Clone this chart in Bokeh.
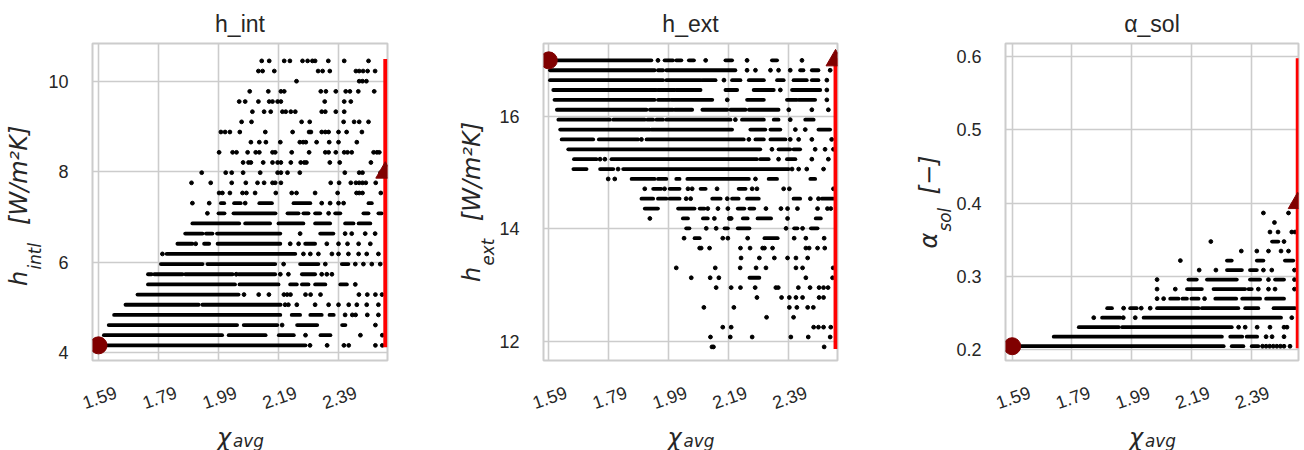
import math
from bokeh.plotting import figure
from bokeh.models import Range1d, FixedTicker, Label, LinearAxis, PrintfTickFormatter
from bokeh.layouts import row
from bokeh.embed import file_html
from bokeh.resources import INLINE

# ---------------------------------------------------------------- data
X_TICKS = [1.59, 1.79, 1.99, 2.19, 2.39]
X_TICK_LABELS = ["1.59", "1.79", "1.99", "2.19", "2.39"]
CHI_REF = 1.59      # chi_avg of the reference design (circle)
CHI_MAX = 2.546     # chi_avg where the red bound line sits (triangle)

# ---- panel 1 : h_int
HINT_LEVELS = [4.155, 4.380, 4.605, 4.830, 5.055, 5.280, 5.505, 5.730, 5.955, 6.180,
               6.405, 6.630, 6.855, 7.080, 7.305, 7.530, 7.755, 7.980, 8.205, 8.430,
               8.655, 8.880, 9.105, 9.330, 9.555, 9.780, 10.005, 10.230, 10.455]
HINT_RUNS = [
    [(1.59, 2.28)],
    [(1.608, 2.002), (2.024, 2.147), (2.191, 2.241), (2.33, 2.363)],
    [(1.624, 2.052), (2.074, 2.186), (2.252, 2.319), (2.402, 2.413)],
    [(1.642, 2.196), (2.234, 2.262), (2.296, 2.334), (2.36, 2.374)],
    [(1.68, 1.924), (1.936, 2.197)],
    [(1.72, 2.057)],
    [(1.755, 2.045), (2.06, 2.19), (2.229, 2.251), (2.268, 2.29), (2.312, 2.346), (2.396, 2.418)],
    [(1.755, 1.767), (1.776, 1.87), (1.879, 2.037), (2.057, 2.179), (2.268, 2.312)],
    [(1.798, 1.937), (1.953, 2.179), (2.262, 2.323), (2.401, 2.423)],
    [(1.817, 2.246)],
    [(1.853, 1.903), (1.942, 1.959), (1.987, 2.196), (2.279, 2.312)],
    [(1.879, 1.937), (1.948, 1.97), (1.985, 2.196), (2.329, 2.373)],
    [(1.903, 2.059), (2.079, 2.162), (2.19, 2.273), (2.312, 2.362), (2.412, 2.44), (2.457, 2.496)],
    [(1.99, 2.01), (2.04, 2.18), (2.22, 2.257), (2.273, 2.29), (2.312, 2.329), (2.379, 2.396),
     (2.473, 2.49), (2.523, 2.534)],
    [(1.998, 2.009), (2.042, 2.064), (2.126, 2.168), (2.24, 2.296), (2.49, 2.501)],
    [], [], [], [], [], [], [], [], [], [], [], [], [], [],
]
HINT_DOTS = [
    [2.295, 2.352, 2.408, 2.424, 2.513, 2.536],
    [2.28, 2.463, 2.536],
    [2.202, 2.513],
    [2.412, 2.436, 2.447, 2.486, 2.523],
    [2.212, 2.223, 2.251, 2.312, 2.357, 2.39, 2.424, 2.451, 2.484, 2.523],
    [2.075, 2.124, 2.158, 2.208, 2.219, 2.23, 2.28, 2.297, 2.33, 2.458, 2.486, 2.513, 2.535],
    [2.446],
    [2.049, 2.196, 2.223, 2.334, 2.351, 2.368],
    [2.207, 2.346, 2.446, 2.473, 2.501, 2.529],
    [1.803, 2.273, 2.296, 2.323, 2.368, 2.39, 2.423, 2.457, 2.484, 2.523],
    [1.914, 2.229, 2.257, 2.351, 2.39, 2.42, 2.457, 2.496],
    [2.262, 2.412, 2.434, 2.479, 2.512],
    [],
    [1.953, 2.357],
    [1.903, 1.959, 2.079, 2.334, 2.362, 2.39, 2.407],
    [1.992, 2.003, 2.028, 2.07, 2.083, 2.112, 2.181, 2.234, 2.25, 2.312, 2.387, 2.45, 2.459, 2.47, 2.531],
    [1.9, 1.964, 2.034, 2.081, 2.12, 2.142, 2.17, 2.179, 2.198, 2.364, 2.392, 2.431, 2.448, 2.459,
     2.47, 2.481, 2.514],
    [1.934, 2.014, 2.034, 2.072, 2.129, 2.187, 2.198, 2.22, 2.261, 2.411, 2.459, 2.47, 2.53],
    [2.072, 2.09, 2.098, 2.139, 2.17, 2.187, 2.198, 2.231, 2.264, 2.276, 2.283, 2.361, 2.394, 2.498],
    [1.992, 2.037, 2.05, 2.087, 2.114, 2.126, 2.17, 2.179, 2.234, 2.292, 2.346, 2.357, 2.381, 2.409,
     2.42, 2.434, 2.507, 2.518, 2.526],
    [2.098, 2.126, 2.148, 2.196, 2.261, 2.272, 2.281, 2.317, 2.359, 2.39, 2.451],
    [1.998, 2.012, 2.028, 2.061, 2.146, 2.237, 2.292, 2.298, 2.334, 2.346, 2.357, 2.39, 2.417, 2.468],
    [2.067, 2.1, 2.267, 2.294, 2.407, 2.442, 2.459, 2.49],
    [2.103, 2.142, 2.164, 2.203, 2.214, 2.231, 2.246, 2.334, 2.346, 2.381, 2.409],
    [2.059, 2.079, 2.123, 2.159, 2.17, 2.187, 2.198, 2.344, 2.409, 2.431],
    [2.094, 2.156, 2.198, 2.209, 2.331, 2.348, 2.381, 2.414, 2.428, 2.456, 2.509],
    [2.25, 2.459, 2.47, 2.483],
    [2.123, 2.137, 2.176, 2.322, 2.337, 2.361, 2.448, 2.459, 2.472, 2.487, 2.512],
    [2.134, 2.159, 2.209, 2.228, 2.27, 2.287, 2.303, 2.312, 2.356, 2.409, 2.49],
]
HINT_BOUNDS = [4.155, 10.455]
HINT_REF = 4.155
HINT_OPT = 7.98
HINT_TICKS = [4, 6, 8, 10]

# ---- panel 2 : h_ext
HEXT_LEVELS = [17.000, 16.824, 16.648, 16.473, 16.297, 16.121, 15.945, 15.769, 15.594, 15.418,
               15.242, 15.066, 14.890, 14.715, 14.539, 14.363, 14.187, 14.011, 13.836, 13.660,
               13.484, 13.308, 13.132, 12.957, 12.781, 12.605, 12.429, 12.253, 12.078, 11.902]
HEXT_RUNS = [
    [(1.589, 1.932), (1.976, 2.004), (2.015, 2.032), (2.057, 2.074), (2.179, 2.201), (2.334, 2.351)],
    [(1.594, 1.943), (1.954, 1.971), (1.982, 2.212), (2.428, 2.439), (2.467, 2.489)],
    [(1.594, 1.971), (1.982, 2.096), (2.102, 2.146), (2.201, 2.229), (2.257, 2.307), (2.351, 2.373),
     (2.406, 2.45), (2.467, 2.489)],
    [(1.605, 1.949), (1.954, 2.01), (2.015, 2.096), (2.179, 2.218), (2.273, 2.34), (2.401, 2.495)],
    [(1.609, 1.943), (1.954, 1.993), (1.999, 2.135), (2.251, 2.307), (2.384, 2.417), (2.423, 2.478)],
    [(1.617, 1.916), (1.927, 2.004), (2.01, 2.068), (2.102, 2.185), (2.196, 2.246), (2.257, 2.356)],
    [(1.622, 1.794), (1.805, 1.91), (1.919, 1.938), (1.949, 1.971), (1.982, 2.196), (2.234, 2.307),
     (2.34, 2.356), (2.445, 2.473)],
    [(1.628, 1.927), (1.932, 2.201), (2.262, 2.312), (2.329, 2.362), (2.489, 2.528)],
    [(1.633, 1.738), (1.757, 1.888), (1.916, 2.24), (2.279, 2.307), (2.329, 2.379)],
    [(1.655, 2.295), (2.356, 2.395), (2.406, 2.428)],
    [(1.674, 1.749), (1.799, 2.284), (2.295, 2.323), (2.384, 2.412)],
    [(1.672, 1.716), (1.761, 1.805), (1.838, 2.39)],
    [(1.866, 1.943), (1.954, 1.982), (2.015, 2.026), (2.052, 2.257), (2.323, 2.351), (2.462, 2.478)],
    [(1.938, 1.965), (1.993, 2.026), (2.096, 2.113), (2.223, 2.246)],
    [(1.899, 1.938), (1.954, 1.982), (1.993, 2.026), (2.135, 2.163), (2.201, 2.223), (2.251, 2.29),
     (2.406, 2.428), (2.5, 2.539)],
    [(1.91, 1.954), (2.021, 2.076), (2.093, 2.109), (2.22, 2.242), (2.259, 2.275)],
    [(2.037, 2.054), (2.104, 2.12), (2.237, 2.253), (2.286, 2.331), (2.48, 2.497)],
    [(2.048, 2.059), (2.176, 2.187), (2.22, 2.259), (2.408, 2.419), (2.464, 2.486)],
    [(2.076, 2.093), (2.309, 2.353)],
    [], [], [],
    [(2.259, 2.292)],
    [], [], [], [], [], [], [],
]
HEXT_DOTS = [
    [1.954, 2.113, 2.251, 2.434],
    [2.251, 2.279, 2.329, 2.356, 2.395, 2.528],
    [2.174, 2.517],
    [2.362, 2.517],
    [2.185, 2.517],
    [2.39, 2.467, 2.522],
    [2.212, 2.395],
    [2.412, 2.445],
    [1.899, 2.257, 2.395, 2.423, 2.467, 2.533],
    [2.334, 2.478, 2.511, 2.539],
    [1.761, 1.777, 2.356, 2.467, 2.522],
    [1.821, 2.401, 2.423, 2.45, 2.506],
    [1.788, 1.81, 2.279],
    [1.91, 1.976, 2.054, 2.068, 2.151, 2.268, 2.284, 2.373, 2.392, 2.539],
    [2.048, 2.063, 2.185, 2.462, 2.489],
    [2.12, 2.154, 2.187, 2.314, 2.364, 2.386, 2.419, 2.486, 2.519, 2.53],
    [1.927, 2.142, 2.192, 2.198, 2.386],
    [2.115, 2.148, 2.381, 2.436],
    [2.041, 2.17, 2.187, 2.253, 2.408, 2.447, 2.508],
    [2.093, 2.098, 2.126, 2.229, 2.261, 2.303, 2.309, 2.336, 2.447, 2.458, 2.486, 2.51],
    [2.231, 2.292, 2.342, 2.386, 2.414, 2.453],
    [2.015, 2.145, 2.228, 2.281, 2.314, 2.414, 2.436, 2.538],
    [2.065, 2.128, 2.157, 2.447, 2.536],
    [2.148, 2.198, 2.229, 2.278, 2.347, 2.355, 2.422, 2.461, 2.491, 2.506, 2.521],
    [2.284, 2.366, 2.392, 2.414, 2.436, 2.491, 2.506],
    [2.107, 2.207, 2.392, 2.417, 2.453, 2.472],
    [2.316, 2.406],
    [2.17, 2.198, 2.473, 2.489, 2.506, 2.53],
    [2.129, 2.195, 2.268, 2.397, 2.455, 2.528],
    [2.134, 2.139, 2.508],
]
HEXT_BOUNDS = [11.902, 17.0]
HEXT_REF = 17.0
HEXT_OPT = 17.0
HEXT_TICKS = [12, 14, 16]

# ---- panel 3 : alpha_sol
ASOL_LEVELS = [0.2045, 0.2175, 0.2305, 0.2435, 0.2565, 0.2695, 0.2825, 0.2955,
               0.3085, 0.3215, 0.3345, 0.3475, 0.3605, 0.3735, 0.3865]
ASOL_RUNS = [
    [(1.59, 2.298), (2.325, 2.364), (2.392, 2.414)],
    [(1.729, 2.292), (2.32, 2.36), (2.375, 2.41)],
    [(1.813, 1.947), (1.958, 2.325)],
    [(1.891, 1.952), (2.03, 2.49)],
    [(1.908, 1.924), (1.985, 2.007), (2.075, 2.214), (2.225, 2.347), (2.37, 2.414), (2.465, 2.537)],
    [(2.119, 2.147), (2.16, 2.175), (2.19, 2.214), (2.27, 2.34), (2.36, 2.42), (2.44, 2.5)],
    [(2.175, 2.225), (2.264, 2.37), (2.381, 2.392)],
    [(2.18, 2.208), (2.242, 2.342), (2.386, 2.42), (2.47, 2.5)],
    [(2.309, 2.359), (2.386, 2.409)],
    [(2.309, 2.325), (2.409, 2.431), (2.503, 2.531)],
    [],
    [(2.46, 2.481)],
    [], [], [],
]
ASOL_DOTS = [
    [2.428, 2.44, 2.452, 2.464, 2.476, 2.488, 2.5, 2.52],
    [2.44, 2.46, 2.5],
    [2.348, 2.37, 2.41, 2.453, 2.5, 2.51],
    [1.863, 1.962, 2.002, 2.526],
    [1.963, 2.022, 2.052],
    [2.075, 2.097, 2.234],
    [2.075, 2.136, 2.414, 2.448, 2.47, 2.535],
    [2.075, 2.448, 2.535],
    [2.216, 2.272, 2.431, 2.459, 2.535],
    [2.153],
    [2.357, 2.409, 2.448, 2.49, 2.515],
    [2.255, 2.5],
    [2.453, 2.48, 2.526, 2.537],
    [2.468],
    [2.431, 2.515],
]
ASOL_BOUNDS = [0.2045, 0.595]
ASOL_REF = 0.2045
ASOL_OPT = 0.40
ASOL_TICKS = [0.2, 0.3, 0.4, 0.5, 0.6]

# ---------------------------------------------------------------- style
H = 450
TOP = 43
FRAME_H = 317
TICK_FONT = "Liberation Sans"
MATH_FONT = "DejaVu Sans"
TXT = "#262626"
GRID = "#cccccc"
MAROON = "#800000"
NB = "\u00a0"


def math_label(x, y, text, size, xo, yo, angle=0.0):
    return Label(x=x, y=y, text=text, angle=angle, x_offset=xo, y_offset=yo,
                 text_align="left", text_baseline="alphabetic",
                 text_font=MATH_FONT, text_font_style="italic",
                 text_font_size=size, text_color=TXT)


def make_panel(title, levels, runs, dots, bounds, y_ref, y_opt, x_rng, y_rng,
               y_ticks, y_fmt, width, b_left, b_right, frame_w,
               ylabel, ylabel_standoff, sub_text, sub_xo, sub_yo, chi_side, sub_side):
    p = figure(width=width, height=H, x_range=Range1d(*x_rng), y_range=Range1d(*y_rng),
               output_backend="svg", toolbar_location=None, x_axis_location=None,
               min_border_left=b_left, min_border_right=b_right,
               min_border_top=TOP, min_border_bottom=H - TOP - FRAME_H,
               title=title)
    p.title.align = "center"
    p.title.text_font = TICK_FONT
    p.title.text_font_size = "23px"
    p.title.text_font_style = "normal"
    p.title.text_color = TXT
    p.title.standoff = 14

    p.background_fill_color = "white"
    p.border_fill_color = "white"
    p.outline_line_color = GRID
    p.outline_line_width = 2

    x0, x1 = x_rng
    y0, y1 = y_rng
    xc = (x0 + x1) / 2
    yc = (y0 + y1) / 2

    # grid
    p.xgrid.ticker = FixedTicker(ticks=X_TICKS)
    for g in (p.xgrid, p.ygrid):
        g.grid_line_color = GRID
        g.grid_line_width = 1.6

    # x axis: rotated labels, centred on the grid lines
    shift = 17.5 * (x1 - x0) / frame_w
    p.extra_x_ranges = {"lbl": Range1d(x0 - shift, x1 - shift)}
    xa = LinearAxis(x_range_name="lbl", ticker=FixedTicker(ticks=X_TICKS),
                    major_label_overrides=dict(zip(X_TICKS, X_TICK_LABELS)))
    xa.axis_line_color = None
    xa.major_tick_line_color = None
    xa.minor_tick_line_color = None
    xa.major_tick_out = 0
    xa.major_label_orientation = 0.34
    xa.major_label_standoff = 31
    xa.major_label_text_font = TICK_FONT
    xa.major_label_text_font_size = "18px"
    xa.major_label_text_color = TXT
    p.add_layout(xa, "below")

    # y axis
    ax = p.yaxis[0]
    ax.ticker = FixedTicker(ticks=y_ticks)
    ax.formatter = PrintfTickFormatter(format=y_fmt)
    ax.axis_line_color = None
    ax.major_tick_line_color = None
    ax.minor_tick_line_color = None
    ax.major_tick_out = 0
    ax.major_label_standoff = 24
    ax.major_label_text_font = TICK_FONT
    ax.major_label_text_font_size = "18px"
    ax.major_label_text_color = TXT
    ax.axis_label = ylabel
    ax.axis_label_standoff = ylabel_standoff
    ax.axis_label_text_font = MATH_FONT
    ax.axis_label_text_font_style = "italic"
    ax.axis_label_text_font_size = "24px"
    ax.axis_label_text_color = TXT

    # scatter of feasible designs: dense runs + isolated points
    sx0, sx1, sy = [], [], []
    for y, rr in zip(levels, runs):
        for a, b in rr:
            sx0.append(a)
            sx1.append(b)
            sy.append(y)
    dx, dy = [], []
    for y, dd in zip(levels, dots):
        for x in dd:
            dx.append(x)
            dy.append(y)
    p.segment(x0=sx0, y0=sy, x1=sx1, y1=sy, line_color="black", line_width=3.8,
              line_cap="round")
    p.scatter(dx, dy, size=3.8, marker="circle", color="black")

    # parameter bound line and markers
    p.segment(x0=[CHI_MAX], y0=[bounds[0]], x1=[CHI_MAX], y1=[bounds[1]],
              line_color="#ff0000", line_width=4, line_cap="square")
    p.scatter([CHI_REF], [y_ref], size=17, marker="circle", color=MAROON)
    p.scatter([CHI_MAX], [y_opt], size=19, marker="triangle", color=MAROON)

    # math-style pieces (placed in side panels with spare room)
    p.add_layout(math_label(xc, y0, "avg", "16.8px", -7, -80), "below")
    p.add_layout(math_label(xc, y0, "χ", "24px", -23, -77), chi_side)
    p.add_layout(math_label(x0, yc, sub_text, "16.8px", sub_xo, sub_yo, math.pi / 2), sub_side)
    return p


p1 = make_panel("h_int", HINT_LEVELS, HINT_RUNS, HINT_DOTS, HINT_BOUNDS, HINT_REF, HINT_OPT,
                (1.570, 2.5533), (3.82, 10.84), HINT_TICKS, "%d", 455, 92, 68, 295,
                "h" + NB * 6 + "[W/m²K]" + NB, 12, "intl", -58, -67.5, "right", "right")
p2 = make_panel("h_ext", HEXT_LEVELS, HEXT_RUNS, HEXT_DOTS, HEXT_BOUNDS, HEXT_REF, HEXT_OPT,
                (1.5724, 2.5525), (11.66, 17.30), HEXT_TICKS, "%d", 423, 87, 41, 295,
                "h" + NB * 6 + "[W/m²K]", 10, "ext", -56, -63.5, "right", "right")
p3 = make_panel("α_sol", ASOL_LEVELS, ASOL_RUNS, ASOL_DOTS, ASOL_BOUNDS, ASOL_REF, ASOL_OPT,
                (1.5676, 2.5485), (0.185, 0.618), ASOL_TICKS, "%.1f", 426, 127, 6, 293,
                "α" + NB * 5 + "[−]", 10, "sol", -61, -29.5, "left", "left")

layout = row(p1, p2, p3)
open("out.html", "w").write(file_html(layout, INLINE))
